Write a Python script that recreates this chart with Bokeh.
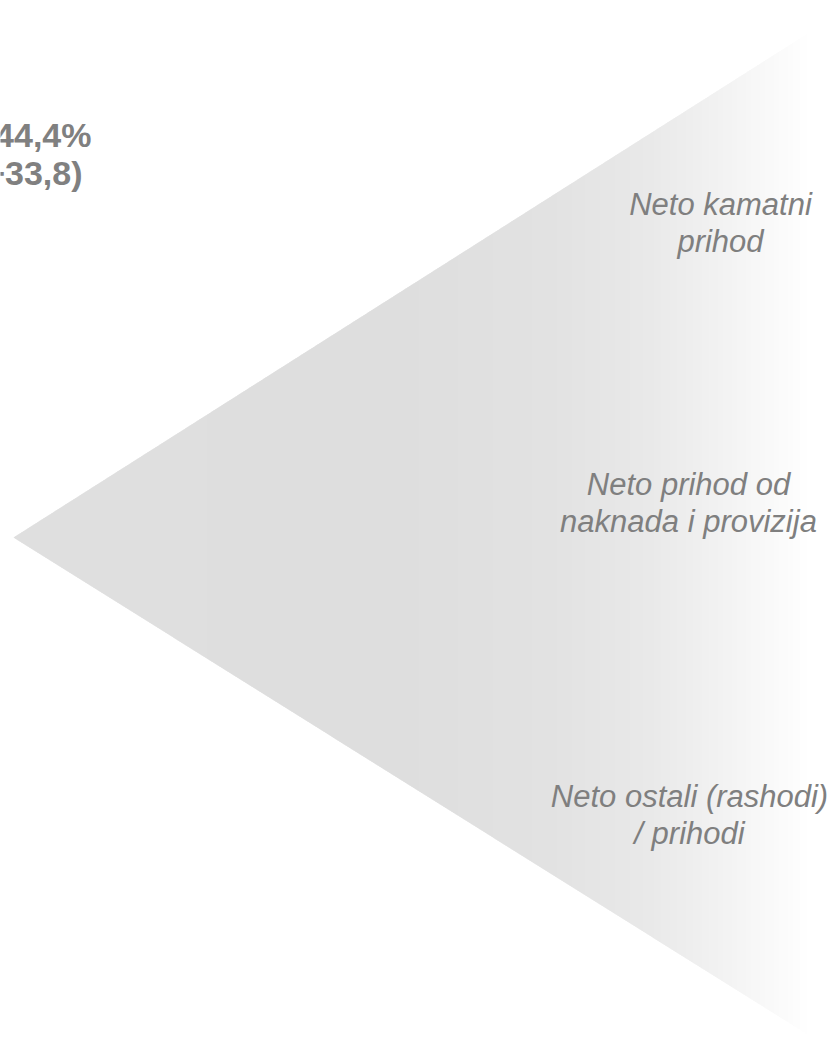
import numpy as np
from bokeh.plotting import figure
from bokeh.models import Range1d, ColumnDataSource
from bokeh.core.properties import value
from bokeh.embed import file_html
from bokeh.resources import INLINE

# ---- data ----
categories = ["Neto kamatni\nprihod",
              "Neto prihod od\nnaknada i provizija",
              "Neto ostali (rashodi)\n/ prihodi"]
highlight_values = ["44,4%", "(+33,8)"]

# ---- layout (pixel-like coordinates) ----
cat_x = [720, 688, 689]
cat_baseline = [204, 484, 796]
line_gap = 37
hl_x = [91, 82]
hl_y = [134, 172]

# decorative funnel triangle geometry
tip = (13, 537)
right_x = 812
top_right_y = 30
bot_right_y = 1037
grad_x = [13, 400, 550, 650, 720, 790, 810]
grad_g = [223, 222, 226, 233, 242, 252, 255]

p = figure(width=834, height=1038, output_backend="svg", toolbar_location=None,
           x_range=Range1d(0, 834), y_range=Range1d(1038, 0),
           min_border=0, background_fill_color="white", border_fill_color="white")
p.axis.visible = False
p.grid.visible = False
p.outline_line_color = None

def top_y(x):
    return tip[1] + (top_right_y - tip[1]) * (x - tip[0]) / (right_x - tip[0])

def bot_y(x):
    return tip[1] + (bot_right_y - tip[1]) * (x - tip[0]) / (right_x - tip[0])

xs, ys, cols = [], [], []
step = 2
for x0 in np.arange(tip[0], right_x, step):
    x1 = min(x0 + step + 1, right_x)
    xs.append([x0, x1, x1, x0])
    ys.append([top_y(x0), top_y(x1), bot_y(x1), bot_y(x0)])
    g = int(round(np.interp(x0 + step / 2, grad_x, grad_g)))
    cols.append("#%02x%02x%02x" % (g, g, g))
p.patches(xs=xs, ys=ys, fill_color=cols, line_color=None)

lx, ly, lt = [], [], []
for cx, cb, cat in zip(cat_x, cat_baseline, categories):
    for i, line in enumerate(cat.split("\n")):
        lx.append(cx)
        ly.append(cb + i * line_gap)
        lt.append(line)
src = ColumnDataSource(dict(x=lx, y=ly, t=lt))
p.text(x="x", y="y", text="t", source=src, text_align="center", text_baseline="alphabetic",
       text_font=value("Liberation Sans"), text_font_style="italic",
       text_font_size="31px", text_color="#7f7f7f")

src2 = ColumnDataSource(dict(x=hl_x, y=hl_y, t=highlight_values))
p.text(x="x", y="y", text="t", source=src2, text_align="right", text_baseline="alphabetic",
       text_font=value("Liberation Sans"), text_font_style="bold",
       text_font_size="34px", text_color="#808080")

open("out.html", "w").write(file_html(p, INLINE))
